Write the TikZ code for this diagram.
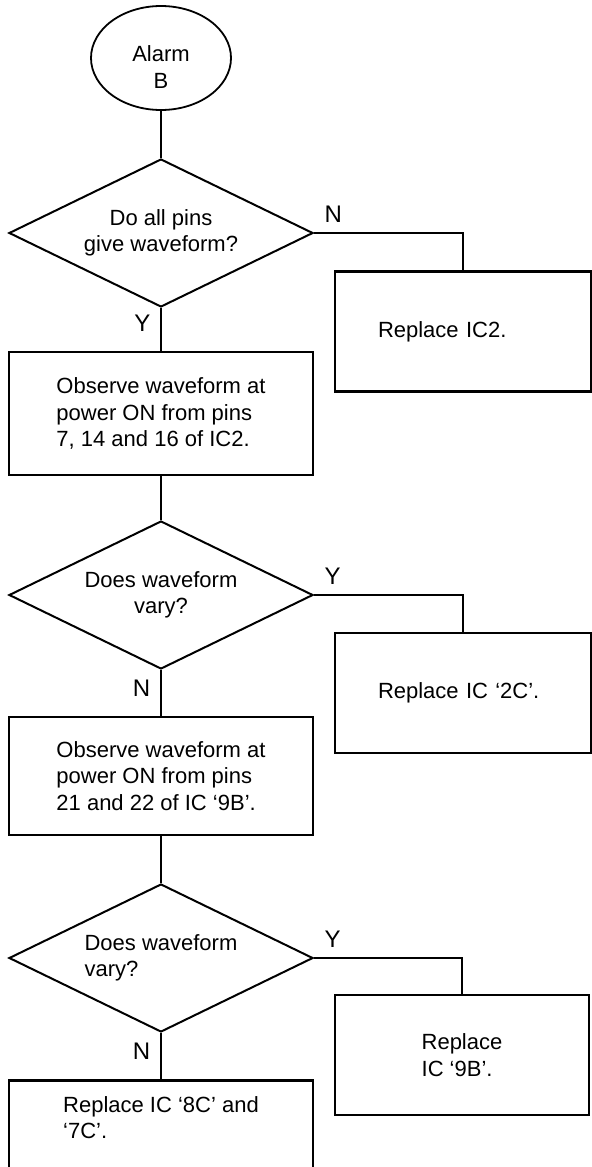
\documentclass[tikz,border=0pt]{standalone}
\usepackage{fontspec}
\setmainfont{Liberation Sans}
\usetikzlibrary{shapes.geometric}

\tikzset{
  stepbox/.style={draw, line width=1.4pt, align=left, minimum width=152pt},
  fixbox/.style={draw, line width=1.4pt, align=left, minimum width=127pt, minimum height=60pt},
  query/.style={draw, diamond, line width=1pt, aspect=2.05, minimum width=152pt,
    minimum height=74pt, inner sep=0pt, align=center},
  yn/.style={font=\fontsize{12}{14}\selectfont, inner sep=5pt},
  link/.style={line width=0.7pt}
}

\begin{document}
\begin{tikzpicture}[x=0.5pt, y=-0.5pt, font=\fontsize{11}{13.3}\selectfont]
\useasboundingbox (0,0) rectangle (592,1167);

\node[draw, ellipse, line width=0.9pt, minimum width=70pt, minimum height=52pt,
  label={[align=center, yshift=-4.5pt]center:Alarm\\B}] (alarm) at (161,58) {};

\node[query] (pins) at (161,233) {Do all pins\\give waveform?};
\node[fixbox, text width=85pt, inner xsep=21.5pt] (ic2) at (463,331.5) {Replace IC2.};
\node[stepbox, minimum height=61.5pt] (obs1) at (161,413.5)
  {Observe waveform at\\power ON from pins\\7, 14 and 16 of IC2.};

\node[query] (vary1) at (161,595) {Does waveform\\vary?};
\node[fixbox, text width=85pt, inner xsep=21.5pt] (ic2c) at (463,693) {Replace IC ‘2C’.};
\node[stepbox, minimum height=59pt] (obs2) at (161,776)
  {Observe waveform at\\power ON from pins\\21 and 22 of IC ‘9B’.};

\node[query, align=left] (vary2) at (161,958) {Does waveform\\vary?};
\node[fixbox] (ic9b) at (462,1055) {Replace\\IC ‘9B’.};
\node[stepbox, anchor=north, inner ysep=8pt, text depth=40pt] (ic8c) at (161,1079)
  {Replace IC ‘8C’ and\\‘7C’.};

% main line down the left, branches out to the right
\draw[link] (alarm) -- (pins);
\draw[link] (pins) -- node[yn, left, pos=0.35] {Y} (obs1);
\draw[link] (pins.east) node[yn, above right] {N} -| (ic2);
\draw[link] (obs1) -- (vary1);
\draw[link] (vary1.east) node[yn, above right] {Y} -| (ic2c);
\draw[link] (vary1) -- node[yn, left, pos=0.4] {N} (obs2);
\draw[link] (obs2) -- (vary2);
\draw[link] (vary2.east) node[yn, above right] {Y} -| (ic9b);
\draw[link] (vary2) -- node[yn, left, pos=0.4] {N} (ic8c);
\end{tikzpicture}
\end{document}
